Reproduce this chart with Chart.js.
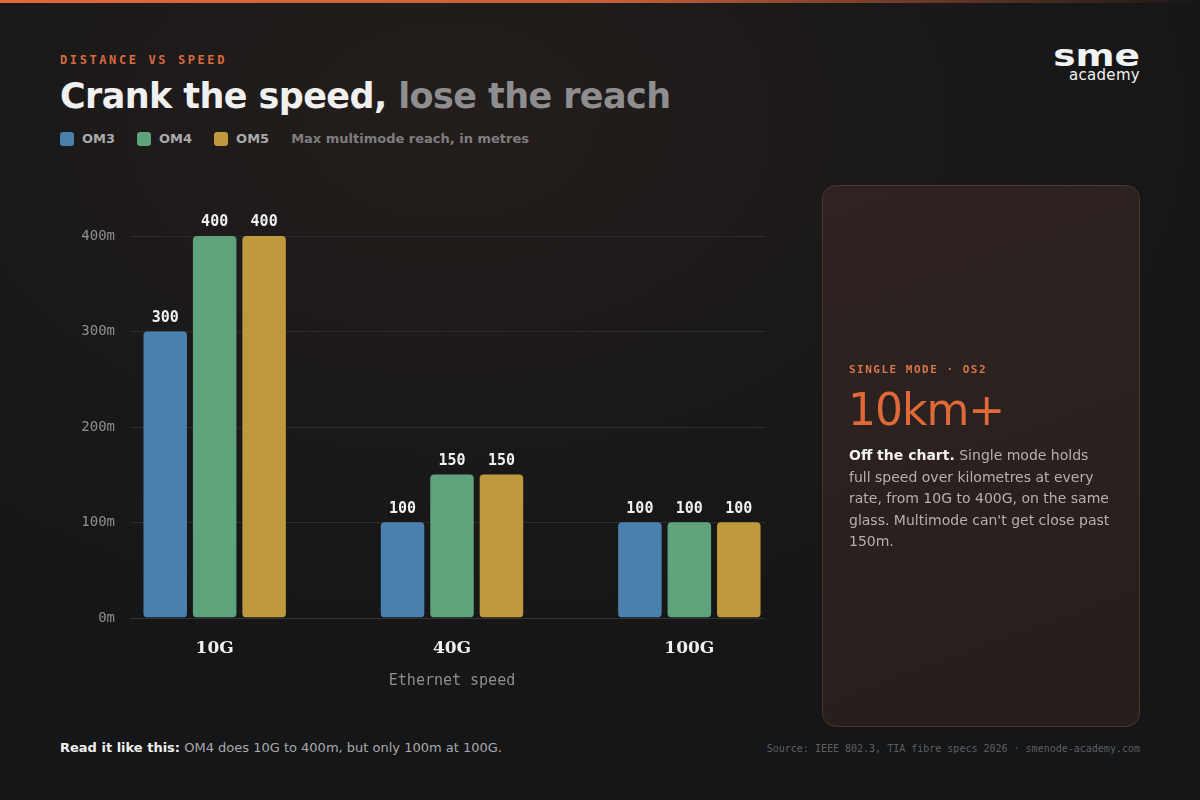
<!DOCTYPE html>
<html><head><meta charset="utf-8">
<script src="https://cdn.jsdelivr.net/npm/chart.js@4"></script>
<style>
html,body{margin:0;padding:0;width:1200px;height:800px;overflow:hidden;background:#161617;font-family:"DejaVu Sans",sans-serif;}
#bg{position:absolute;inset:0;background:radial-gradient(ellipse 900px 600px at 450px 120px,#231e1c 0%,#1a1818 55%,#151617 100%);}
#topbar{position:absolute;left:0;top:0;width:1200px;height:3px;background:linear-gradient(90deg,#e0693a 0%,#c8603a 50%,rgba(200,96,58,0) 100%);}
.kick{position:absolute;left:60px;top:53px;font-family:"DejaVu Sans Mono",monospace;font-size:12px;font-weight:bold;letter-spacing:2.6px;color:#d96a3e;}
h1{position:absolute;left:60px;top:76px;margin:0;font-size:35px;font-weight:bold;color:#f0f0f0;letter-spacing:-0.6px;}
h1 span{color:#8e8e90;}
.leg{position:absolute;left:60px;top:131px;font-size:13px;font-weight:bold;color:#a9a9ab;display:flex;align-items:center;}
.sw{display:inline-block;width:14px;height:14px;border-radius:3px;margin-right:8px;}
.leg .it{display:flex;align-items:center;margin-right:22px;}
.leg .note{color:#7d7d80;}
#logo{position:absolute;left:1040px;top:44px;color:#f2f2f2;font-family:"DejaVu Sans",sans-serif;text-align:right;width:100px;}
#logo .a{font-size:30px;font-weight:bold;line-height:24px;letter-spacing:0px;transform:scaleX(1.25);transform-origin:right;}
#logo .b{font-size:15px;line-height:14px;letter-spacing:0.3px;}
#wrap{position:absolute;left:0px;top:200px;width:900px;height:500px;}
#card{position:absolute;left:822px;top:185px;width:318px;height:542px;border:1px solid #4a3630;border-radius:14px;background:linear-gradient(160deg,#2e2320 0%,#271e1c 100%);box-sizing:border-box;}
#card .k{position:absolute;left:26px;top:177px;font-family:"DejaVu Sans Mono",monospace;font-size:11px;font-weight:bold;letter-spacing:1.5px;color:#d8764b;}
#card .big{position:absolute;left:25px;top:198px;font-size:44px;color:#e0693a;letter-spacing:-1px;}
#card .p{position:absolute;left:26px;top:259px;width:264px;font-size:14px;line-height:21.5px;color:#b5b1ae;}
#card .p b{color:#f0f0f0;}
.foot{position:absolute;left:60px;top:740px;font-size:13px;color:#a9a9ab;}
.foot b{color:#f0f0f0;}
.src{position:absolute;right:60px;top:743px;font-family:"DejaVu Sans Mono",monospace;font-size:10px;color:#5e5e60;}
</style></head><body>
<div id="bg"></div><div id="topbar"></div>
<div class="kick">DISTANCE VS SPEED</div>
<h1>Crank the speed, <span>lose the reach</span></h1>
<div class="leg">
<div class="it"><span class="sw" style="background:#4a80ad"></span>OM3</div>
<div class="it"><span class="sw" style="background:#5ea37c"></span>OM4</div>
<div class="it"><span class="sw" style="background:#bf993e"></span>OM5</div>
<div class="note">Max multimode reach, in metres</div>
</div>
<div id="logo"><div class="a">sme</div><div class="b">academy</div></div>
<div id="wrap"><canvas id="c"></canvas></div>
<div id="card">
<div class="k">SINGLE MODE · OS2</div>
<div class="big">10km+</div>
<div class="p"><b>Off the chart.</b> Single mode holds full speed over kilometres at every rate, from 10G to 400G, on the same glass. Multimode can't get close past 150m.</div>
</div>
<div class="foot"><b>Read it like this:</b> OM4 does 10G to 400m, but only 100m at 100G.</div>
<div class="src">Source: IEEE 802.3, TIA fibre specs 2026 · smenode-academy.com</div>
<script>
const categories=["10G","40G","100G"];
const om3=[300,100,100];
const om4=[400,150,100];
const om5=[400,150,100];
const yTicks=[0,100,200,300,400];
const colors={om3:"#4a80ad",om4:"#5ea37c",om5:"#bf993e"};
const GL=130,GR=765;
const grid={id:"grid",beforeDatasetsDraw(ch){const c=ch.ctx,y=ch.scales.y;c.save();
c.font="14px 'DejaVu Sans Mono'";c.textAlign="right";c.textBaseline="middle";
yTicks.forEach(v=>{const p=Math.round(y.getPixelForValue(v))+0.5;c.strokeStyle=v===0?"#333335":"#2c2c2e";c.lineWidth=1;c.beginPath();c.moveTo(GL,p);c.lineTo(GR,p);c.stroke();
c.fillStyle="#8e8e90";c.fillText(v+"m",115,p);});c.restore();}};
const valLabels={id:"vl",afterDatasetsDraw(ch){const c=ch.ctx;c.save();c.font="bold 15px 'DejaVu Sans Mono'";c.fillStyle="#f0f0f0";c.textAlign="center";c.textBaseline="bottom";
ch.data.datasets.forEach((d,i)=>{ch.getDatasetMeta(i).data.forEach((b,j)=>{c.fillText(String(d.data[j]),b.x,b.y-6);});});c.restore();}};
const ds=(l,d,col)=>({label:l,data:d,backgroundColor:col,borderRadius:4,borderSkipped:false,categoryPercentage:0.625,barPercentage:0.88});
new Chart(document.getElementById("c"),{type:"bar",
data:{labels:categories,datasets:[ds("OM3",om3,colors.om3),ds("OM4",om4,colors.om4),ds("OM5",om5,colors.om5)]},
options:{responsive:true,maintainAspectRatio:false,animation:false,
layout:{padding:{top:36,right:92,left:88,bottom:6}},
plugins:{legend:{display:false},tooltip:{enabled:false}},
scales:{
x:{grid:{display:false},border:{display:false},ticks:{color:"#f0f0f0",font:{family:"'DejaVu Serif'",weight:"bold",size:17},padding:13},
title:{display:true,text:"Ethernet speed",color:"#8e8e90",font:{family:"'DejaVu Sans Mono'",size:15},padding:{top:0}}},
y:{min:0,max:400,afterBuildTicks(a){a.ticks=yTicks.map(v=>({value:v}));},grid:{display:false},border:{display:false},ticks:{display:false}}
}},plugins:[grid,valLabels]});
</script>
</body></html>
